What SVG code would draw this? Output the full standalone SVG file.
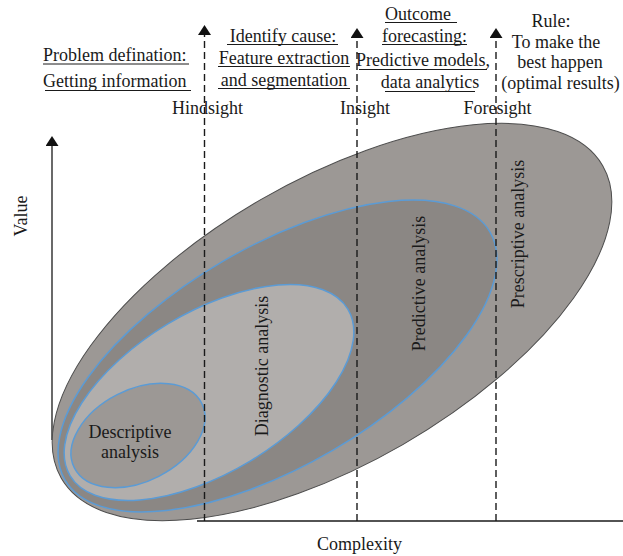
<svg xmlns="http://www.w3.org/2000/svg" width="623" height="556" viewBox="0 0 623 556">
<style>
text{font-family:"Liberation Serif","Times New Roman",serif;font-size:18px;fill:#1a1a1a}
.mid{text-anchor:middle}
.ul{stroke:#1a1a1a;stroke-width:1}
.blue{stroke:#5b9bd5;stroke-width:1.5}
.dash{stroke:#1a1a1a;stroke-width:1.4;stroke-dasharray:7 4;fill:none}
.axis{stroke:#1a1a1a;stroke-width:1.3;fill:none}
</style>
<defs>
<marker id="arr" viewBox="0 0 10 13" refX="0" refY="6.5" markerWidth="10" markerHeight="13" markerUnits="userSpaceOnUse" orient="auto">
<path d="M0,0 L10,6.5 L0,13 z" fill="#111"/>
</marker>
</defs>
<rect width="623" height="556" fill="#fff"/>

<g id="connectors">
<line class="axis" x1="52" y1="440" x2="52" y2="146" marker-end="url(#arr)"/>
<line class="axis" x1="197" y1="521" x2="623" y2="521"/>
</g>

<g id="prescriptive">
<ellipse cx="332" cy="322" rx="312.6" ry="141.6" transform="rotate(-30 332 322)" fill="#9c9895" stroke="#4d4d4d" stroke-width="1"/>
</g>
<g id="predictive">
<ellipse class="blue" cx="277.5" cy="356" rx="246" ry="109.3" transform="rotate(-30.3 277.5 356)" fill="#8b8784"/>
</g>
<g id="diagnostic">
<ellipse class="blue" cx="209" cy="392.5" rx="162" ry="80" transform="rotate(-31 209 392.5)" fill="#b1aeac"/>
</g>
<g id="descriptive">
<ellipse class="blue" cx="138" cy="435.5" rx="71.4" ry="45.8" transform="rotate(-27 138 435.5)" fill="#9c9895"/>
</g>

<g id="guides">
<line class="dash" x1="204.5" y1="521" x2="204.5" y2="35" marker-end="url(#arr)"/>
<line class="dash" x1="357" y1="521" x2="357" y2="38" marker-end="url(#arr)"/>
<line class="dash" x1="496" y1="521" x2="496" y2="38" marker-end="url(#arr)"/>
</g>

<g id="labels-regions">
<text class="mid" x="130" y="437.5">Descriptive</text>
<text class="mid" x="130" y="457.5">analysis</text>
<text class="mid" transform="translate(268 366) rotate(-90)">Diagnostic analysis</text>
<text class="mid" transform="translate(424.5 283.5) rotate(-90)">Predictive analysis</text>
<text class="mid" transform="translate(524 234) rotate(-90)">Prescriptive analysis</text>
</g>

<g id="axis-labels">
<text class="mid" transform="translate(27 216) rotate(-90)">Value</text>
<text class="mid" x="359.5" y="550">Complexity</text>
</g>

<g id="hindsight-label">
<text x="43" y="61">Problem defination:</text>
<line class="ul" x1="43" y1="64" x2="189" y2="64"/>
<text x="43" y="87">Getting information</text>
<line class="ul" x1="45" y1="90.5" x2="191" y2="90.5"/>
<text class="mid" x="207.5" y="114">Hindsight</text>
</g>

<g id="insight-label">
<text class="mid" x="283" y="41.5">Identify cause:</text>
<line class="ul" x1="227" y1="44.5" x2="338" y2="44.5"/>
<text class="mid" x="284" y="63.5">Feature extraction</text>
<line class="ul" x1="218" y1="66.5" x2="350" y2="66.5"/>
<text class="mid" x="284" y="85.5">and segmentation</text>
<line class="ul" x1="218" y1="88.5" x2="350" y2="88.5"/>
<text class="mid" x="365" y="114">Insight</text>
</g>

<g id="foresight-label">
<text class="mid" x="418" y="19.5">Outcome</text>
<line class="ul" x1="385" y1="22.5" x2="457" y2="22.5"/>
<text class="mid" x="424.5" y="41.5">forecasting:</text>
<line class="ul" x1="382" y1="44.5" x2="467" y2="44.5"/>
<text class="mid" x="423" y="65.5">Predictive models,</text>
<line class="ul" x1="359" y1="69.5" x2="487" y2="69.5"/>
<text class="mid" x="430" y="87.5">data analytics</text>
<line class="ul" x1="385" y1="91.5" x2="475" y2="91.5"/>
<text class="mid" x="497.5" y="114">Foresight</text>
</g>

<g id="rule-label">
<text class="mid" x="551" y="26.5">Rule:</text>
<text class="mid" x="556" y="48">To make the</text>
<text class="mid" x="560" y="68">best happen</text>
<text class="mid" x="560.5" y="88.5">(optimal results)</text>
</g>
</svg>
